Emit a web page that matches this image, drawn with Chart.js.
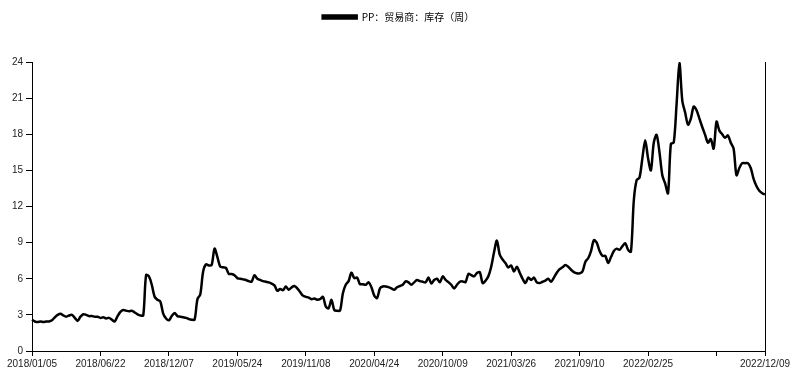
<!DOCTYPE html>
<html lang="zh">
<head>
<meta charset="UTF-8">
<title>PP 贸易商库存</title>
<style>
  html, body { margin: 0; padding: 0; background: #fff; }
</style>
</head>
<body>
<canvas id="stock" width="797" height="383"></canvas>
<script src="https://cdn.jsdelivr.net/npm/chart.js"></script>
<script>
// weekly series, first week 2018/01/05
const seriesName = 'PP：贸易商：库存（周）';
const firstWeek = [2018, 1, 5];

const stock = [
  2.6, 2.45, 2.4, 2.45, 2.4, 2.45, 2.45, 2.55, 2.8, 3.0,
  3.1, 2.95, 2.85, 2.95, 3.0, 2.75, 2.5, 2.85, 3.05, 3.0,
  2.9, 2.9, 2.85, 2.85, 2.75, 2.8, 2.7, 2.75, 2.6, 2.45,
  2.9, 3.25, 3.4, 3.35, 3.3, 3.35, 3.2, 3.05, 2.95, 2.95,
  6.3, 6.2, 5.5, 4.5, 4.25, 4.1, 3.1, 2.7, 2.55, 2.9,
  3.15, 2.9, 2.85, 2.8, 2.75, 2.65, 2.6, 2.6, 4.3, 4.7,
  6.6, 7.2, 7.1, 7.15, 8.5, 7.8, 7.0, 6.95, 6.9, 6.4,
  6.4, 6.3, 6.05, 6.0, 5.95, 5.9, 5.8, 5.75, 6.3, 6.0,
  5.9, 5.8, 5.75, 5.7, 5.6, 5.45, 5.0, 5.15, 5.05, 5.35,
  5.08, 5.28, 5.4, 5.2, 4.9, 4.6, 4.5, 4.44, 4.3, 4.36,
  4.25, 4.3, 4.5, 3.7, 3.55, 4.25, 3.4, 3.35, 3.35, 4.8,
  5.5, 5.8, 6.5, 6.05, 6.1, 5.55, 5.55, 5.5, 5.7, 5.3,
  4.6, 4.4, 5.2, 5.36, 5.36, 5.3, 5.2, 5.08, 5.3, 5.4,
  5.5, 5.78, 5.7, 5.5, 5.7, 5.9, 5.8, 5.75, 5.7, 6.1,
  5.6, 5.9, 6.0, 5.7, 6.2, 5.9, 5.72, 5.5, 5.2, 5.5,
  5.75, 5.78, 5.72, 6.4, 6.3, 6.2, 6.47, 6.55, 5.64, 5.83,
  6.2, 7.0, 8.2, 9.17, 8.0, 7.6, 7.3, 6.94, 7.1, 6.6,
  7.0, 6.5, 6.0, 5.64, 6.1, 5.9, 6.1, 5.7, 5.64, 5.75,
  5.85, 6.0, 5.75, 6.1, 6.5, 6.8, 6.95, 7.15, 7.0, 6.75,
  6.55, 6.45, 6.45, 6.6, 7.4, 7.7, 8.3, 9.2, 9.0, 8.3,
  7.9, 7.9, 7.3, 7.8, 8.3, 8.5, 8.4, 8.7, 8.95, 8.4,
  8.25, 12.5, 14.2, 14.4, 16.0, 17.5, 16.0, 15.0, 17.3, 17.95,
  16.5, 14.6, 13.9, 13.1, 17.2, 17.3, 20.5, 23.9, 20.8, 19.8,
  18.8, 19.3, 20.3, 20.0, 19.3, 18.6, 17.95, 17.3, 17.6, 16.8,
  19.05, 18.3, 18.0, 17.7, 17.9, 17.3, 16.8, 14.6, 15.2, 15.6,
  15.6, 15.6, 15.2, 14.3, 13.7, 13.3, 13.1, 13.0
];

const tickDates = [
  '2018/01/05', '2018/06/22', '2018/12/07', '2019/05/24', '2019/11/08', '2020/04/24',
  '2020/10/09', '2021/03/26', '2021/09/10', '2022/02/25', '2022/08/12', '2022/12/09'
];
const hiddenTickDates = ['2022/08/12'];

const yMin = 0;
const yMax = 24;
const yStep = 3;

function pad(n) {
    return n < 10 ? '0' + n : '' + n;
}

// one label per week
let weeks = [];
for (let i = 0; i < stock.length; i++) {
    let d = new Date(Date.UTC(firstWeek[0], firstWeek[1] - 1, firstWeek[2] + i * 7));
    weeks.push(d.getUTCFullYear() + '/' + pad(d.getUTCMonth() + 1) + '/' + pad(d.getUTCDate()));
}

const axisFont = { family: '"Liberation Sans", Arial, sans-serif', size: 10 };

// legend takes the whole band above the plot
const legendBand = {
    id: 'legendBand',
    beforeInit(chart) {
        const fit = chart.legend.fit;
        chart.legend.fit = function () {
            fit.call(this);
            this.height = 62;
        };
    }
};

new Chart(document.getElementById('stock').getContext('2d'), {
    type: 'line',
    data: {
        labels: weeks,
        datasets: [{
            label: seriesName,
            data: stock,
            borderColor: '#000',
            backgroundColor: '#000',
            borderWidth: 2.5,
            pointRadius: 0,
            tension: 0.3,
            fill: false
        }]
    },
    options: {
        responsive: false,
        animation: false,
        layout: { padding: 0 },
        plugins: {
            legend: {
                display: true,
                position: 'top',
                labels: {
                    boxWidth: 34,
                    boxHeight: 3,
                    padding: 12,
                    color: '#000',
                    font: { family: '"Noto Sans CJK SC", sans-serif', size: 10 }
                }
            },
            tooltip: { enabled: false }
        },
        scales: {
            x: {
                type: 'category',
                offset: false,
                afterBuildTicks: (scale) => {
                    scale.ticks = tickDates.map(d => ({ value: weeks.indexOf(d) }));
                },
                afterFit: (scale) => { scale.height = 32; },
                grid: { display: true, drawOnChartArea: false, drawTicks: true, tickLength: 5, color: '#000' },
                border: { display: true, color: '#000', width: 1 },
                ticks: {
                    autoSkip: false,
                    maxRotation: 0,
                    padding: 2,
                    color: '#222',
                    font: axisFont,
                    callback: function (value) {
                        let lab = weeks[value];
                        return hiddenTickDates.includes(lab) ? '' : lab;
                    }
                }
            },
            y: {
                position: 'left',
                min: yMin,
                max: yMax,
                afterFit: (scale) => { scale.width = 32; },
                grid: { display: true, drawOnChartArea: false, drawTicks: true, tickLength: 6, color: '#000' },
                border: { display: true, color: '#000', width: 1 },
                ticks: { stepSize: yStep, padding: 3, color: '#222', font: axisFont }
            },
            yRight: {
                position: 'right',
                min: yMin,
                max: yMax,
                afterFit: (scale) => { scale.width = 32; },
                grid: { display: false },
                border: { display: true, color: '#000', width: 1 },
                ticks: { display: false }
            }
        }
    },
    plugins: [legendBand]
});
</script>
</body>
</html>
